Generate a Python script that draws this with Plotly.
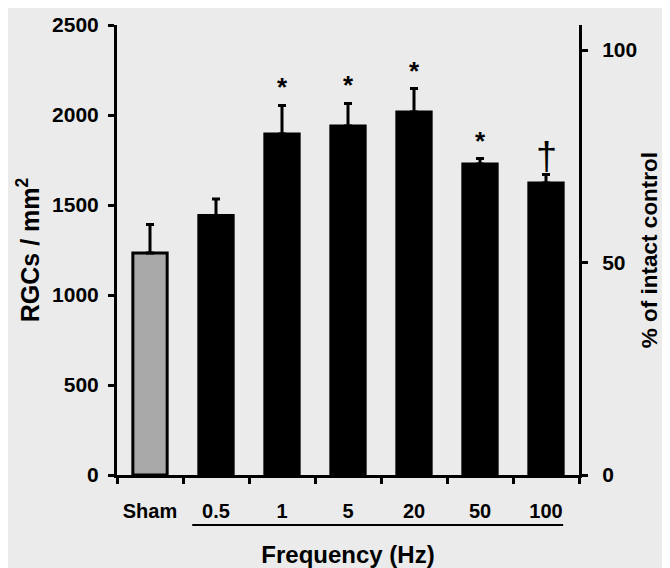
import plotly.graph_objects as go

categories = ["Sham", "0.5", "1", "5", "20", "50", "100"]
rgc_density = [1233, 1441, 1894, 1939, 2017, 1728, 1622]
sem = [159, 93, 159, 125, 130, 30, 47]
significance = ["", "", "*", "*", "*", "*", "†"]
bar_colors = ["#a8a8a8", "black", "black", "black", "black", "black", "black"]
left_ticks = [0, 500, 1000, 1500, 2000, 2500]
right_ticks = [0, 50, 100]
intact_control = 2361  # RGCs/mm2 corresponding to 100 %

FONT = "Liberation Sans, Arial, sans-serif"
BG = "#ebebeb"

fig = go.Figure()
fig.add_trace(go.Bar(
    x=categories, y=rgc_density, width=0.52,
    marker=dict(color=bar_colors, line=dict(color="black", width=3)),
    error_y=dict(type="data", array=sem, arrayminus=[0] * len(sem), symmetric=False,
                 color="black", thickness=3, width=4),
    showlegend=False, hoverinfo="skip",
))
# invisible trace to activate the right axis
fig.add_trace(go.Scatter(x=categories, y=[v / intact_control * 100 for v in rgc_density],
                         yaxis="y2", mode="markers", marker=dict(opacity=0),
                         showlegend=False, hoverinfo="skip"))

for i, (v, e, s) in enumerate(zip(rgc_density, sem, significance)):
    if s:
        star = s == "*"
        fig.add_annotation(x=i, y=v + e, xref="x", yref="y", text=s if not star else f"<b>{s}</b>",
                           showarrow=False, yanchor="bottom", yshift=1 if star else -4,
                           font=dict(family=FONT, size=26 if star else 38, color="black"))

# underline below frequency labels
fig.add_shape(type="line", xref="x", yref="paper", x0=0.64, x1=6.26, y0=-0.111, y1=-0.111,
              line=dict(color="black", width=2))

top = 2500
fig.update_layout(
    width=662, height=560,
    margin=dict(l=109, r=91, t=17, b=93),
    paper_bgcolor=BG, plot_bgcolor=BG,
    font=dict(family=FONT, size=21, color="black"),
    xaxis=dict(
        range=[-0.5, 6.5], tickson="boundaries", ticks="outside", ticklen=6, tickwidth=2.5,
        tickcolor="black", showline=True, linecolor="black", linewidth=3,
        tickfont=dict(family=FONT, size=20), ticklabelstandoff=16, tickangle=0,
        tickvals=categories, ticktext=[f"<b>{c}</b>" for c in categories],
        title=dict(text="<b>Frequency (Hz)</b>", font=dict(family=FONT, size=24), standoff=26),
        showgrid=False, zeroline=False, fixedrange=True, automargin=False,
    ),
    yaxis=dict(
        range=[0, top], tickvals=left_ticks, ticktext=[f"<b>{t}</b>" for t in left_ticks],
        ticks="outside", ticklen=6, tickwidth=2.5, tickcolor="black", automargin=False,
        showline=True, linecolor="black", linewidth=3, showgrid=False, zeroline=False,
        tickfont=dict(family=FONT, size=21), ticklabelstandoff=5,
        title=dict(text="<b>RGCs / mm<sup>2</sup></b>", font=dict(family=FONT, size=25), standoff=6),
    ),
    yaxis2=dict(
        overlaying="y", side="right", range=[0, top / intact_control * 100],
        tickvals=right_ticks, ticktext=[f"<b>{t}</b>" for t in right_ticks],
        ticks="outside", ticklen=6, tickwidth=2.5, tickcolor="black", automargin=False,
        showline=True, linecolor="black", linewidth=3, showgrid=False, zeroline=False,
        tickfont=dict(family=FONT, size=21), ticklabelstandoff=10,
        title=dict(text="<b>% of intact control</b>", font=dict(family=FONT, size=22.5), standoff=6),
    ),
)

fig.write_html("out.html")
